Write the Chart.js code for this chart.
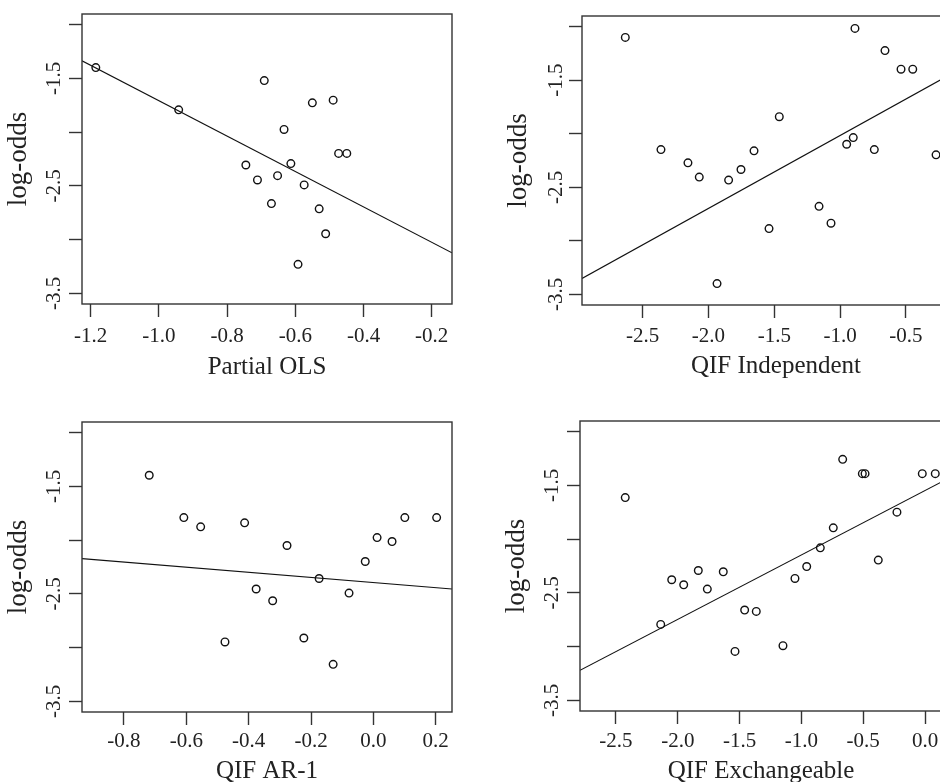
<!DOCTYPE html>
<html>
<head>
<meta charset="utf-8">
<script src="https://cdn.jsdelivr.net/npm/chart.js@4.4.0/dist/chart.umd.min.js"></script>
<style>
  html, body { margin: 0; padding: 0; background: #fff; }
  body { width: 940px; height: 782px; overflow: hidden; position: relative; }
  canvas { position: absolute; }
</style>
</head>
<body>
<canvas id="p1"></canvas>
<canvas id="p2"></canvas>
<canvas id="p3"></canvas>
<canvas id="p4"></canvas>
<script>
// shared y axis
const yTicks = [-3.5, -3.0, -2.5, -2.0, -1.5, -1.0];
const yTickLabels = ['-3.5', '', '-2.5', '', '-1.5', ''];
const yTitle = 'log-odds';

// Partial OLS
const olsX = [-1.185, -0.942, -0.691, -0.550, -0.489, -0.633, -0.473, -0.449, -0.613,
  -0.745, -0.652, -0.711, -0.574, -0.670, -0.530, -0.511, -0.592];
const olsY = [-1.399, -1.792, -1.520, -1.727, -1.702, -1.975, -2.198, -2.198, -2.293,
  -2.306, -2.405, -2.445, -2.491, -2.665, -2.714, -2.946, -3.231];
const olsTicks = [-1.2, -1.0, -0.8, -0.6, -0.4, -0.2];
const olsTickLabels = ['-1.2', '-1.0', '-0.8', '-0.6', '-0.4', '-0.2'];

// QIF Independent
const indX = [-2.632, -0.887, -0.659, -0.537, -0.448, -1.462, -2.361, -1.654, -0.900, -0.950,
  -0.740, -0.271, -2.156, -2.070, -1.753, -1.847, -1.160, -1.069, -1.540, -1.935];
const indY = [-1.100, -1.016, -1.223, -1.397, -1.397, -1.841, -2.148, -2.160, -2.036, -2.098,
  -2.148, -2.197, -2.272, -2.405, -2.334, -2.433, -2.678, -2.836, -2.886, -3.400];
const indTicks = [-2.5, -2.0, -1.5, -1.0, -0.5];
const indTickLabels = ['-2.5', '-2.0', '-1.5', '-1.0', '-0.5'];

// QIF AR-1
const ar1X = [-0.719, -0.608, -0.554, -0.413, -0.277, 0.012, 0.060, 0.101, 0.203,
  -0.026, -0.174, -0.376, -0.323, -0.078, -0.476, -0.223, -0.129];
const ar1Y = [-1.396, -1.790, -1.876, -1.839, -2.050, -1.976, -2.013, -1.790, -1.790,
  -2.199, -2.357, -2.455, -2.564, -2.493, -2.948, -2.911, -3.156];
const ar1Ticks = [-0.8, -0.6, -0.4, -0.2, 0.0, 0.2];
const ar1TickLabels = ['-0.8', '-0.6', '-0.4', '-0.2', '0.0', '0.2'];

// QIF Exchangeable
const exchX = [-2.425, -0.666, -0.507, -0.485, -0.022, 0.083, -0.227, -0.742, -0.847, -0.957, -0.378,
  -1.052, -2.049, -1.952, -1.834, -1.761, -1.632, -1.459, -1.365, -2.138, -1.537, -1.149];
const exchY = [-1.613, -1.257, -1.390, -1.390, -1.390, -1.390, -1.749, -1.895, -2.081, -2.255, -2.195,
  -2.366, -2.378, -2.425, -2.292, -2.465, -2.304, -2.660, -2.673, -2.794, -3.045, -2.992];
const exchTicks = [-2.5, -2.0, -1.5, -1.0, -0.5, 0.0];
const exchTickLabels = ['-2.5', '-2.0', '-1.5', '-1.0', '-0.5', '0.0'];

const xTitles = ['Partial OLS', 'QIF Independent', 'QIF AR-1', 'QIF Exchangeable'];
// fitted lines: y = a + b x
const fitIntercept = [-3.355, -1.335, -2.395, -1.547];
const fitSlope = [-1.648, 0.681, -0.239, 0.600];

// panel placement (plot box in page pixels) and axis limits
const panels = [
  { id: 'p1', xs: olsX, ys: olsY, ticks: olsTicks, labels: olsTickLabels,
    left: 82, top: 14, w: 370, h: 290, xMin: -1.2255, xMax: -0.1405, xPad: 7, yPad: -2, tPad: 2 },
  { id: 'p2', xs: indX, ys: indY, ticks: indTicks, labels: indTickLabels,
    left: 582, top: 16, w: 388, h: 289, xMin: -2.961, xMax: -0.013, xPad: 6, yPad: -4, tPad: 4 },
  { id: 'p3', xs: ar1X, ys: ar1Y, ticks: ar1Ticks, labels: ar1TickLabels,
    left: 82, top: 422, w: 370, h: 290, xMin: -0.9347, xMax: 0.2523, xPad: 4, yPad: -2, tPad: 6 },
  { id: 'p4', xs: exchX, ys: exchY, ticks: exchTicks, labels: exchTickLabels,
    left: 580, top: 421, w: 362, h: 290, xMin: -2.791, xMax: 0.1375, xPad: 5, yPad: -2, tPad: 5 }
];

const AXIS_W = 80, AXIS_H = 80, PAD_T = 16, PAD_R = 10;
const ink = '#222';
const serif = 'Liberation Serif, Times New Roman, serif';

const framePlugin = {
  id: 'frame',
  afterDraw(chart) {
    var a = chart.chartArea, ctx = chart.ctx;
    ctx.save();
    ctx.strokeStyle = '#333';
    ctx.lineWidth = 1.4;
    ctx.strokeRect(a.left, a.top, a.right - a.left, a.bottom - a.top);
    ctx.restore();
  }
};

panels.forEach(function (p, k) {
  var canvas = document.getElementById(p.id);
  canvas.width = AXIS_W + p.w + PAD_R;
  canvas.height = PAD_T + p.h + AXIS_H;
  canvas.style.left = (p.left - AXIS_W) + 'px';
  canvas.style.top = (p.top - PAD_T) + 'px';

  var points = p.xs.map((x, i) => ({ x: x, y: p.ys[i] }));
  var fit = [p.xMin, p.xMax].map((x) => ({ x: x, y: fitIntercept[k] + fitSlope[k] * x }));

  new Chart(canvas, {
    type: 'scatter',
    data: {
      datasets: [
        {
          data: points,
          pointStyle: 'circle',
          pointRadius: 3.8,
          pointBorderWidth: 1.4,
          pointBorderColor: '#111',
          pointBackgroundColor: 'rgba(0,0,0,0)',
          clip: false,
        },
        {
          data: fit,
          showLine: true,
          pointRadius: 0,
          borderColor: '#111',
          borderWidth: 1.1,
        },
      ],
    },
    options: {
      responsive: false,
      animation: false,
      events: [],
      layout: { padding: { top: PAD_T, right: PAD_R, left: 0, bottom: 0 } },
      plugins: { legend: { display: false }, tooltip: { enabled: false } },
      scales: {
        x: {
          type: 'linear',
          position: 'bottom',
          min: p.xMin,
          max: p.xMax,
          afterBuildTicks: (s) => { s.ticks = p.ticks.map((v) => ({ value: v })); },
          afterFit: (s) => { s.height = AXIS_H; },
          border: { display: false },
          grid: { drawOnChartArea: false, drawTicks: true, tickLength: 13, tickWidth: 1.4, tickColor: '#333' },
          ticks: {
            autoSkip: false,
            maxRotation: 0,
            padding: p.xPad,
            color: ink,
            font: { family: serif, size: 21 },
            callback: (v, i) => p.labels[i],
          },
          title: {
            display: true,
            text: xTitles[k],
            color: ink,
            font: { family: serif, size: 25 },
            padding: { top: 0, bottom: p.tPad },
          },
        },
        y: {
          type: 'linear',
          position: 'left',
          min: -3.6,
          max: -0.9,
          afterBuildTicks: (s) => { s.ticks = yTicks.map((v) => ({ value: v })); },
          afterFit: (s) => { s.width = AXIS_W; },
          border: { display: false },
          grid: { drawOnChartArea: false, drawTicks: true, tickLength: 13, tickWidth: 1.4, tickColor: '#333' },
          ticks: {
            autoSkip: false,
            minRotation: 90,
            maxRotation: 90,
            crossAlign: 'center',
            padding: p.yPad,
            color: ink,
            font: { family: serif, size: 21 },
            callback: (v, i) => yTickLabels[i],
          },
          title: {
            display: true,
            text: yTitle,
            color: ink,
            font: { family: serif, size: 27 },
            padding: { top: 1, bottom: 0 },
          },
        },
      },
    },
    plugins: [framePlugin],
  });
});
</script>
</body>
</html>
